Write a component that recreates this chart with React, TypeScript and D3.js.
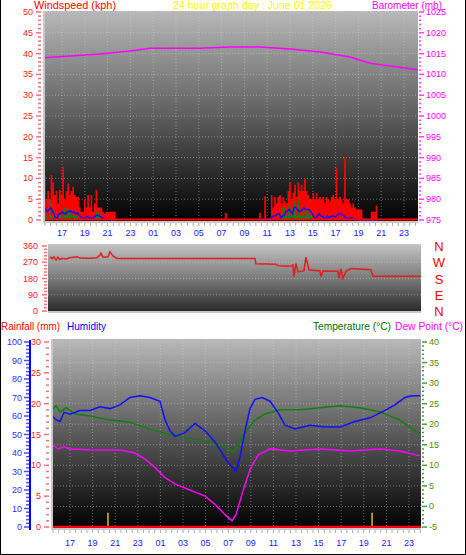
import React from 'react';
import * as d3 from 'd3';

// ---------- tick labels ----------
const tickHours = [17, 19, 21, 23, 25, 27, 29, 31, 33, 35, 37, 39, 41, 43, 45, 47];
const tickLabels = ['17', '19', '21', '23', '01', '03', '05', '07', '09', '11', '13', '15', '17', '19', '21', '23'];
const dirLabels = ['N', 'W', 'S', 'E', 'N'];
const dirValues = [360, 270, 180, 90, 0];

// ---------- barometer ----------
const baroHours = [15.42, 17.7, 20.33, 22.96, 24.72, 29.1, 31.74, 34.37, 37.0, 39.63, 42.26, 44.02, 45.77, 48.23];
const baroValues = [1014.0, 1014.4, 1014.9, 1015.6, 1016.3, 1016.3, 1016.6, 1016.6, 1016.1, 1015.4, 1014.2, 1012.7, 1012.0, 1011.1];

// ---------- wind (kph), two windy periods sampled every ~9 min ----------
const windStep = 0.146;
const wind1Start = 15.42;
const gust1 = [10.8, 5, 7, 5, 10.8, 9, 6, 7, 4, 7.2, 6, 12.7, 5, 7, 8.8, 6, 7, 8, 6, 5.5, 5.5, 3, 2, 2, 5, 3, 6, 3, 6, 2, 4, 7.3, 3, 3, 3, 2, 1.5, 2, 2, 2, 2, 2, 2, 2];
const avg1 = [3, 2.5, 2, 2.5, 3, 2.2, 1.5, 0.5, 0.5, 1.5, 1.5, 2, 1.5, 1.5, 2, 2, 2.2, 1.8, 2, 1.5, 1.8, 1.2, 0.8, 0.5, 0.4, 0.5, 0.8, 0.6, 0.5, 0.4, 0.6, 1.0, 1.2, 1.0, 0.8, 0.5, 0.3, 0.2, 0.2, 0.1, 0.1, 0, 0, 0];
const speed1 = [2.5, 1, 0.5, 5, 1, 0.5, 2, 0, 0.5, 1, 1.5, 0.5, 3, 1, 2.5, 2.5, 1, 1.5, 1, 1, 0.5, 0.5, 0, 0, 0, 0.5, 0, 0, 0.5, 0, 0, 2, 2, 1, 0, 0, 0, 0, 0, 0, 0, 0, 0, 0];
const wind2Start = 34.3;
const gust2 = [1.8, 0, 0, 5.7, 0, 0, 0, 6, 3, 5.5, 4, 5.5, 6, 4, 5.5, 4.5, 4, 7, 9, 5, 6.5, 8.5, 5.5, 9, 7, 8.5, 7, 10, 7, 6, 5, 5, 6.5, 5, 6.5, 5, 5.5, 5, 5.5, 4, 5.5, 5, 4.5, 5.5, 6, 5, 12.5, 5, 5.5, 5, 4, 15, 5, 5, 4, 3, 4, 3, 2.5, 2.5, 2.5, 2.5, 0, 0, 0, 0, 0, 2, 2, 2, 3.5, 0];
const avg2 = [0, 0, 0, 0.2, 0.2, 0.2, 0.3, 0.5, 0.8, 1, 1, 1.5, 1.5, 0.5, 1, 1, 2, 2.2, 2.5, 2, 1.5, 3, 3, 2.5, 2, 2.2, 2.5, 3, 2.5, 2.5, 2.5, 2, 1.5, 0.5, 0.5, 1, 1.5, 1, 0.8, 0.5, 0.5, 1, 0.5, 0.8, 1, 0.8, 0.8, 1.2, 1.5, 1.5, 1.2, 1, 0.5, 0.5, 0.3, 0.5, 0.5, 0.3, 0.2, 0.2, 0, 0, 0, 0, 0, 0, 0, 0, 0, 0, 0, 0];
const speed2 = [0, 0, 0, 0, 0, 0, 0, 0, 0, 0, 0, 0, 0, 3, 1, 3, 1, 3.5, 1, 3, 2, 4.5, 1, 5, 1, 1, 2.5, 1, 2.5, 1.5, 1, 1.5, 0.5, 0, 0, 0, 0, 0, 0, 0, 0, 0, 0, 0, 0, 0, 0, 0, 0, 0, 0, 0, 0, 0, 0, 0, 0, 0, 0, 0, 0, 0, 0, 0, 0, 0, 0, 0, 0, 0, 0, 0];
const gustSpikeHours = [31.28];
const gustSpikeValues = [1.7];

// ---------- wind direction ----------
const dirHours = [15.51, 15.68, 15.86, 16.04, 16.21, 16.39, 16.56, 16.92, 17.27, 17.89, 18.15, 19.03, 19.65, 19.92, 20.0, 20.18, 20.62, 20.8, 21.06, 21.41, 33.58, 33.67, 35.43, 35.61, 36.76, 36.93, 37.02, 37.2, 37.38, 37.9, 38.08, 38.35, 39.32, 39.4, 39.58, 40.9, 40.99, 41.17, 41.34, 41.61, 42.05, 43.81, 43.99, 48.22];
const dirDegrees = [300, 290, 300, 282, 298, 285, 292, 288, 295, 300, 293, 292, 295, 310, 320, 298, 300, 328, 305, 291, 291, 262, 259, 250, 248, 255, 190, 262, 218, 222, 298, 228, 222, 190, 222, 220, 180, 235, 180, 220, 235, 228, 193, 193];

// ---------- humidity / temperature / dew point ----------
const humHours = [15.41, 15.76, 16.12, 16.47, 17.0, 17.88, 18.77, 19.65, 20.54, 21.42, 22.31, 23.19, 24.08, 24.96, 25.41, 25.85, 26.29, 27.18, 28.06, 28.95, 29.83, 30.45, 30.98, 31.42, 31.69, 32.05, 32.49, 32.93, 33.37, 33.99, 34.7, 35.4, 36.03, 36.9, 38.24, 39.57, 40.9, 42.22, 43.55, 44.88, 45.76, 46.65, 47.27, 47.97];
const humValues = [60, 58, 57, 62, 61, 63, 63, 65, 64, 66, 70, 71, 70, 68, 58, 52, 49, 51, 56, 52, 46, 40, 35, 32, 30, 38, 52, 64, 69, 70, 68, 62, 55, 53, 55, 54, 54, 57, 59, 63, 66, 70, 71, 71];
const tempHours = [15.41, 15.76, 16.12, 16.65, 17.44, 18.77, 20.54, 22.31, 24.08, 25.85, 27.62, 29.39, 30.72, 31.42, 31.87, 32.49, 33.37, 34.26, 35.58, 37.35, 39.12, 40.89, 42.66, 44.43, 46.2, 47.97];
const tempValues = [23.5, 24.5, 23, 24, 22.5, 22, 21, 20.5, 18.8, 17.5, 16.5, 15.5, 14.5, 13.2, 15, 18, 21, 22.5, 23.5, 23.5, 24, 24.5, 24, 23, 21, 17.6];
const dewHours = [15.41, 15.94, 16.47, 17.0, 18.77, 21.42, 22.75, 23.64, 24.52, 25.41, 26.29, 27.62, 28.95, 29.83, 30.72, 31.34, 31.69, 32.22, 32.93, 33.64, 34.7, 36.47, 39.12, 41.78, 44.43, 46.2, 47.97];
const dewValues = [15, 14, 14.5, 14, 13.8, 13.7, 13, 11.5, 9.5, 7, 5.5, 4, 2.5, 0.5, -2, -3.5, -2, 3, 9, 12.5, 14, 13.5, 14, 13.5, 14, 13.5, 12.3];
const rainHours = [20.36, 43.73];
const rainValues = [2.3, 2.3];

const FONT = 'Liberation Sans, Arial, sans-serif';

function series(start: number, vals: number[]) {
  return vals.map((v, i) => ({ h: start + i * windStep, v }));
}

export default function App() {
  // top panel
  const TX0 = 43, TX1 = 418;
  const xTop = d3.scaleLinear().domain([17, 47]).range([62, 404]);
  const yWind = d3.scaleLinear().domain([0, 50]).range([220, 12]);
  const yBaro = d3.scaleLinear().domain([975, 1025]).range([220, 12]);
  // middle panel
  const MX0 = 48, MX1 = 421;
  const xMid = d3.scaleLinear().domain([15.33, 48.23]).range([MX0, MX1]);
  const yDir = d3.scaleLinear().domain([0, 360]).range([311, 246]);
  // bottom panel
  const BX0 = 51, BX1 = 421;
  const xBot = d3.scaleLinear().domain([17, 47]).range([70, 409]);
  const yTemp = d3.scaleLinear().domain([-5, 40]).range([527, 342]);
  const yHum = d3.scaleLinear().domain([0, 100]).range([527, 342]);
  const yRain = d3.scaleLinear().domain([0, 30]).range([527, 342]);

  type P = { h: number; v: number };
  const stepArea = (xs: d3.ScaleLinear<number, number>, ys: d3.ScaleLinear<number, number>) =>
    d3.area<P>().x(d => xs(d.h)).y0(ys(0)).y1(d => ys(d.v)).curve(d3.curveStepAfter);
  const line = (xs: d3.ScaleLinear<number, number>, ys: d3.ScaleLinear<number, number>) =>
    d3.line<P>().x(d => xs(d.h)).y(d => ys(d.v));

  const g1 = series(wind1Start, gust1), g2 = series(wind2Start, gust2);
  const a1 = series(wind1Start, avg1), a2 = series(wind2Start, avg2);
  const s1 = series(wind1Start, speed1), s2 = series(wind2Start, speed2);
  const baro = baroHours.map((h, i) => ({ h, v: baroValues[i] }));
  const dir = dirHours.map((h, i) => ({ h, v: dirDegrees[i] }));
  const hum = humHours.map((h, i) => ({ h, v: humValues[i] }));
  const temp = tempHours.map((h, i) => ({ h, v: tempValues[i] }));
  const dew = dewHours.map((h, i) => ({ h, v: dewValues[i] }));

  const gridColor = 'rgba(210,210,210,0.45)';
  const halfHours = d3.range(15.5, 48.3, 0.5);
  const fit = { lengthAdjust: 'spacingAndGlyphs' } as any;

  return (
    <svg width={466} height={555} style={{ position: 'absolute', left: 0, top: 0, background: '#fff' }} fontFamily={FONT}>
      <defs>
        <linearGradient id="gTop" x1="0" y1="0" x2="0" y2="1">
          <stop offset="0" stopColor="#b8b8b8" />
          <stop offset="0.5" stopColor="#5e5e5e" />
          <stop offset="1" stopColor="#000" />
        </linearGradient>
        <linearGradient id="gMid" x1="0" y1="0" x2="0" y2="1">
          <stop offset="0" stopColor="#c4c4c4" />
          <stop offset="0.5" stopColor="#7a7a7a" />
          <stop offset="1" stopColor="#262626" />
        </linearGradient>
        <linearGradient id="gBot" x1="0" y1="0" x2="0" y2="1">
          <stop offset="0" stopColor="#b8b8b8" />
          <stop offset="0.5" stopColor="#5a5a5a" />
          <stop offset="1" stopColor="#000" />
        </linearGradient>
        <clipPath id="cTop"><rect x={TX0} y={11} width={TX1 - TX0} height={211} /></clipPath>
        <clipPath id="cMid"><rect x={MX0} y={244} width={MX1 - MX0} height={69} /></clipPath>
        <clipPath id="cBot"><rect x={BX0} y={339} width={BX1 - BX0} height={190} /></clipPath>
      </defs>

      {/* outer border */}
      <line x1={0.5} y1={0} x2={0.5} y2={555} stroke="#000" />
      <line x1={465.5} y1={0} x2={465.5} y2={555} stroke="#000" />
      <line x1={0} y1={554.5} x2={466} y2={554.5} stroke="#000" />

      {/* headers */}
      <text x={34} y={9} fontSize={11} fill="#ff0000" textLength={82} {...fit}>Windspeed (kph)</text>
      <text x={173} y={9} fontSize={11} fill="#ffff00" textLength={159} {...fit}>24 hour graph day : June 01 2026</text>
      <text x={372} y={9} fontSize={11} fill="#ff00ff" textLength={70} {...fit}>Barometer (mb)</text>

      {/* ===== TOP PANEL ===== */}
      <rect x={TX0} y={11} width={TX1 - TX0} height={211} fill="url(#gTop)" />
      {d3.range(5, 51, 5).map(v => (
        <line key={'tg' + v} x1={TX0} x2={TX1} y1={yWind(v)} y2={yWind(v)} stroke={gridColor} strokeDasharray="1,2" />
      ))}
      {tickHours.map(h => (
        <line key={'tv' + h} x1={xTop(h)} x2={xTop(h)} y1={11} y2={221} stroke={gridColor} strokeDasharray="1,2" />
      ))}
      <g clipPath="url(#cTop)">
        <path d={line(xTop, yBaro)(baro) || ''} fill="none" stroke="#ff00ff" strokeWidth={1.5} />
        <path d={stepArea(xTop, yWind)(g1) || ''} fill="#ff0000" />
        <path d={stepArea(xTop, yWind)(g2) || ''} fill="#ff0000" />
        {gustSpikeHours.map((h, i) => (
          <rect key={'sp' + i} x={xTop(h)} y={yWind(gustSpikeValues[i])} width={2} height={yWind(0) - yWind(gustSpikeValues[i])} fill="#ff0000" />
        ))}
        <path d={stepArea(xTop, yWind)(s1) || ''} fill="#108010" />
        <path d={stepArea(xTop, yWind)(s2) || ''} fill="#108010" />
        <path d={line(xTop, yWind)(a1) || ''} fill="none" stroke="#1010ff" strokeWidth={1.5} />
        <path d={line(xTop, yWind)(a2) || ''} fill="none" stroke="#1010ff" strokeWidth={1.5} />
        <line x1={TX0} x2={TX1} y1={yWind(0) - 0.5} y2={yWind(0) - 0.5} stroke="#ff0000" strokeWidth={2} />
      </g>
      <line x1={TX0 + 1} x2={TX0 + 1} y1={11} y2={222} stroke="#c8c8c8" strokeWidth={2} />
      <line x1={TX0} x2={TX1} y1={222} y2={222} stroke="#c8c8c8" strokeWidth={2} />
      {/* left wind axis */}
      {d3.range(0, 51, 1).map(v => (
        <line key={'wt' + v} x1={v % 5 === 0 ? 36 : 38} x2={41} y1={yWind(v)} y2={yWind(v)} stroke="#ff7070" strokeWidth={1.5} />
      ))}
      {d3.range(0, 51, 5).map(v => (
        <text key={'wl' + v} x={33} y={yWind(v) + 3} fontSize={9} fill="#ff2020" textAnchor="end">{v}</text>
      ))}
      {/* right baro axis */}
      {d3.range(975, 1026, 1).map(v => (
        <line key={'bt' + v} x1={419} x2={v % 5 === 0 ? 424 : 421} y1={yBaro(v)} y2={yBaro(v)} stroke="#ff40ff" strokeWidth={1.5} />
      ))}
      {d3.range(975, 1026, 5).map(v => (
        <text key={'bl' + v} x={426} y={yBaro(v) + 3} fontSize={9} fill="#ff00ff">{v}</text>
      ))}
      {/* x ticks + labels */}
      {halfHours.map(h => xTop(h) >= TX0 && xTop(h) <= TX1 ? (
        <line key={'xt' + h} x1={xTop(h)} x2={xTop(h)} y1={223} y2={226} stroke="#a8b0a8" />
      ) : null)}
      {tickHours.map((h, i) => (
        <text key={'xl' + h} x={xTop(h)} y={236} fontSize={9} fill="#2020ff" textAnchor="middle">{tickLabels[i]}</text>
      ))}

      {/* ===== MIDDLE PANEL ===== */}
      <rect x={MX0} y={244} width={MX1 - MX0} height={69} fill="url(#gMid)" />
      {[90, 180, 270].map(v => (
        <line key={'mg' + v} x1={MX0} x2={MX1} y1={yDir(v)} y2={yDir(v)} stroke={gridColor} strokeDasharray="1,2" />
      ))}
      <g clipPath="url(#cMid)">
        <path d={line(xMid, yDir)(dir) || ''} fill="none" stroke="#e02020" strokeWidth={1.5} />
      </g>
      <line x1={MX0} x2={MX1} y1={312} y2={312} stroke="#c8c8c8" strokeWidth={2} />
      {d3.range(0, 361, 18).map(v => (
        <line key={'dt' + v} x1={v % 90 === 0 ? 42 : 44} x2={47} y1={yDir(v)} y2={yDir(v)} stroke="#ff7070" strokeWidth={1.5} />
      ))}
      {dirValues.map(v => (
        <text key={'dl' + v} x={38} y={yDir(v) + 3} fontSize={9} fill="#ff2020" textAnchor="end">{v}</text>
      ))}
      {dirValues.map((v, i) => (
        <text key={'dn' + i} x={439} y={yDir(v) + 5} fontSize={13} fill="#ff0000" textAnchor="middle">{dirLabels[i]}</text>
      ))}

      {/* ===== BOTTOM PANEL ===== */}
      <text x={1} y={330} fontSize={11} fill="#ff0000" textLength={59} {...fit}>Rainfall (mm)</text>
      <text x={67} y={330} fontSize={11} fill="#0000ff" textLength={39} {...fit}>Humidity</text>
      <text x={313} y={330} fontSize={11} fill="#007000" textLength={78} {...fit}>Temperature (°C)</text>
      <text x={395} y={330} fontSize={11} fill="#ff00ff" textLength={68} {...fit}>Dew Point (°C)</text>

      <rect x={BX0} y={339} width={BX1 - BX0} height={190} fill="url(#gBot)" />
      {d3.range(-5, 41, 5).map(v => (
        <line key={'bg' + v} x1={BX0} x2={BX1} y1={yTemp(v)} y2={yTemp(v)} stroke={gridColor} strokeDasharray="1,2" />
      ))}
      {tickHours.map(h => (
        <line key={'bv' + h} x1={xBot(h)} x2={xBot(h)} y1={339} y2={528} stroke={gridColor} strokeDasharray="1,2" />
      ))}
      <g clipPath="url(#cBot)">
        <path d={line(xBot, yTemp)(temp) || ''} fill="none" stroke="#108010" strokeWidth={1.5} />
        <path d={line(xBot, yTemp)(dew) || ''} fill="none" stroke="#ff00ff" strokeWidth={1.5} />
        <path d={line(xBot, yHum)(hum) || ''} fill="none" stroke="#1010ff" strokeWidth={1.5} />
        {rainHours.map((h, i) => (
          <line key={'rn' + i} x1={xBot(h)} x2={xBot(h)} y1={yRain(0)} y2={yRain(rainValues[i])} stroke="#e0c000" strokeWidth={1.5} />
        ))}
        <line x1={BX0} x2={BX1} y1={yRain(0)} y2={yRain(0)} stroke="#ff0000" strokeWidth={2.5} />
      </g>
      <line x1={BX0 + 1} x2={BX0 + 1} y1={339} y2={529} stroke="#c8c8c8" strokeWidth={2} />
      <line x1={BX0} x2={BX1} y1={529} y2={529} stroke="#c8c8c8" strokeWidth={2} />
      {/* humidity axis */}
      <line x1={30} x2={30} y1={340} y2={530} stroke="#0000ff" strokeWidth={2} />
      {d3.range(0, 101, 2).map(v => (
        <line key={'ht' + v} x1={v % 10 === 0 ? 24 : 26} x2={29} y1={yHum(v)} y2={yHum(v)} stroke="#5050ff" strokeWidth={1.5} />
      ))}
      {d3.range(0, 101, 10).map(v => (
        <text key={'hl' + v} x={22} y={yHum(v) + 3} fontSize={9} fill="#3030ff" textAnchor="end">{v}</text>
      ))}
      {/* rain axis */}
      {d3.range(0, 31, 1).map(v => (
        <line key={'rt' + v} x1={v % 5 === 0 ? 44 : 46} x2={49} y1={yRain(v)} y2={yRain(v)} stroke="#ff7070" strokeWidth={1.5} />
      ))}
      {d3.range(0, 31, 5).map(v => (
        <text key={'rl' + v} x={41} y={yRain(v) + 3} fontSize={9} fill="#ff2020" textAnchor="end">{v}</text>
      ))}
      {/* temp axis */}
      {d3.range(-5, 41, 1).map(v => (
        <line key={'ct' + v} x1={422} x2={v % 5 === 0 ? 427 : 424} y1={yTemp(v)} y2={yTemp(v)} stroke="#40a040" strokeWidth={1.5} />
      ))}
      {d3.range(-5, 41, 5).map(v => (
        <text key={'cl' + v} x={429} y={yTemp(v) + 3} fontSize={9} fill="#5a8a00">{v}</text>
      ))}
      {halfHours.map(h => xBot(h) >= BX0 && xBot(h) <= BX1 ? (
        <line key={'bxt' + h} x1={xBot(h)} x2={xBot(h)} y1={530} y2={533} stroke="#a8b0a8" />
      ) : null)}
      {tickHours.map((h, i) => (
        <text key={'bxl' + h} x={xBot(h)} y={546} fontSize={9} fill="#2020ff" textAnchor="middle">{tickLabels[i]}</text>
      ))}
    </svg>
  );
}
